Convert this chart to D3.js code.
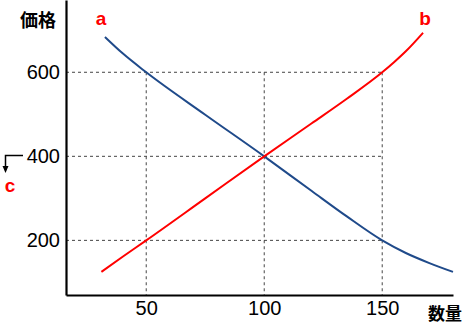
<!DOCTYPE html>
<html>
<head>
<meta charset="utf-8">
<script src="https://cdn.jsdelivr.net/npm/d3@7"></script>
<style>
  body { margin: 0; background: #fff; }
  svg { display: block; }
</style>
</head>
<body>
<svg id="chart" width="465" height="330"></svg>
<script>
// demand curve (blue) : quantity / price
const DEMAND_Q = [32.5, 40, 50, 75, 100, 120, 135, 150, 160, 170, 180];
const DEMAND_P = [684, 645, 600, 499, 400, 318, 257, 200, 170, 146, 125];

// supply curve (red)
const SUPPLY_Q = [31, 40, 50, 75, 100, 120, 135, 150, 155, 160, 167.3];
const SUPPLY_P = [125, 161, 200, 300, 400, 478, 537, 600, 624, 650, 694];

// tick labels
const X_TICKS = [50, 100, 150];
const Y_TICKS = [200, 400, 600];

const SVG = d3.select('#chart');

// plot area
const LEFT = 66, RIGHT = 453, TOP = 0, BOTTOM = 295;

const X_SCALE = d3.scaleLinear().domain([16, 180]).range([LEFT, RIGHT]);
const Y_SCALE = d3.scaleLinear().domain([70, 772]).range([BOTTOM, TOP]);

const FONT = 'Arial, "Liberation Sans", sans-serif';
const CJK = '"Noto Sans CJK JP", sans-serif';

// dashed guide lines
const GRID = SVG.append('g').attr('id', 'grid');
const X_MAX_GRID = d3.max(X_TICKS);
const Y_MAX_GRID = d3.max(Y_TICKS);

GRID.selectAll('line.h')
    .data(Y_TICKS)
    .join('line')
    .attr('class', 'h')
    .attr('x1', LEFT)
    .attr('x2', X_SCALE(X_MAX_GRID))
    .attr('y1', d => Y_SCALE(d))
    .attr('y2', d => Y_SCALE(d));

GRID.selectAll('line.v')
    .data(X_TICKS)
    .join('line')
    .attr('class', 'v')
    .attr('x1', d => X_SCALE(d))
    .attr('x2', d => X_SCALE(d))
    .attr('y1', Y_SCALE(Y_MAX_GRID))
    .attr('y2', BOTTOM);

GRID.selectAll('line')
    .style('stroke', '#444')
    .style('stroke-width', 1)
    .style('stroke-dasharray', '3,3');

// curves
const LINE = d3.line()
    .x(d => X_SCALE(d[0]))
    .y(d => Y_SCALE(d[1]))
    .curve(d3.curveMonotoneX);

SVG.append('path')
    .datum(d3.zip(DEMAND_Q, DEMAND_P))
    .attr('d', LINE)
    .style('fill', 'none')
    .style('stroke', '#1f4a8a')
    .style('stroke-width', 2);

SVG.append('path')
    .datum(d3.zip(SUPPLY_Q, SUPPLY_P))
    .attr('d', LINE)
    .style('fill', 'none')
    .style('stroke', '#ff0000')
    .style('stroke-width', 2);

// axes
const Y_AXIS = d3.axisLeft(Y_SCALE).tickValues(Y_TICKS).tickSize(0).tickSizeOuter(0).tickPadding(6);
const X_AXIS = d3.axisBottom(X_SCALE).tickValues(X_TICKS).tickSize(0).tickSizeOuter(0).tickPadding(6);

const Y_AXIS_G = SVG.append('g').attr('transform', `translate(${LEFT}, 0)`).call(Y_AXIS);
const X_AXIS_G = SVG.append('g').attr('transform', `translate(0, ${BOTTOM})`).call(X_AXIS);

[Y_AXIS_G, X_AXIS_G].forEach(g => {
    g.select('.domain').style('stroke', '#000').style('stroke-width', 2.2);
    g.selectAll('text')
        .style('font-family', FONT)
        .style('font-size', '20px')
        .style('fill', '#000');
});

// axis titles
SVG.append('text')
    .text('価格')
    .attr('x', 38).attr('y', 27)
    .attr('text-anchor', 'middle')
    .style('font-family', CJK).style('font-weight', 'bold').style('font-size', '18px');

SVG.append('text')
    .text('数量')
    .attr('x', 445).attr('y', 320)
    .attr('text-anchor', 'middle')
    .style('font-family', CJK).style('font-weight', 'bold').style('font-size', '17px');

// curve labels
const LABELS = [['a', 101, 25], ['b', 425, 25], ['c', 10, 192]];
SVG.selectAll('text.lbl')
    .data(LABELS)
    .join('text')
    .attr('class', 'lbl')
    .text(d => d[0])
    .attr('x', d => d[1])
    .attr('y', d => d[2])
    .attr('text-anchor', 'middle')
    .style('font-family', FONT)
    .style('font-weight', 'bold')
    .style('font-size', '19px')
    .style('fill', '#ff0000');

// small arrow next to c
SVG.append('path')
    .attr('d', 'M23,155.5 H5.5 V167')
    .style('fill', 'none')
    .style('stroke', '#000')
    .style('stroke-width', 1.5);
SVG.append('path')
    .attr('d', 'M2.5,166 L8.5,166 L5.5,173 Z')
    .style('fill', '#000');
</script>
</body>
</html>
